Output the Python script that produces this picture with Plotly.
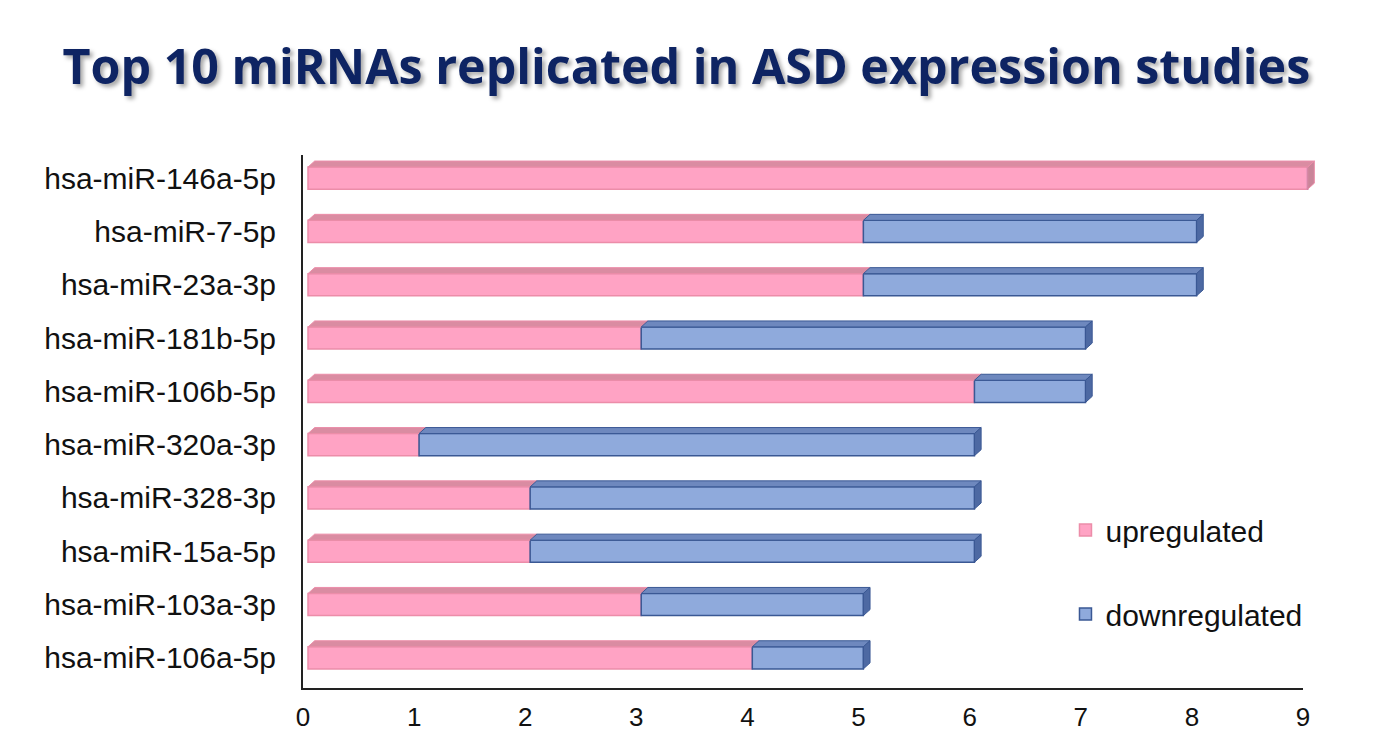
import plotly.graph_objects as go

mirnas = ["hsa-miR-146a-5p", "hsa-miR-7-5p", "hsa-miR-23a-3p", "hsa-miR-181b-5p",
          "hsa-miR-106b-5p", "hsa-miR-320a-3p", "hsa-miR-328-3p", "hsa-miR-15a-5p",
          "hsa-miR-103a-3p", "hsa-miR-106a-5p"]
upregulated = [9, 5, 5, 3, 6, 1, 2, 2, 3, 4]
downregulated = [0, 3, 3, 4, 1, 5, 4, 4, 2, 1]
x_ticks = [0, 1, 2, 3, 4, 5, 6, 7, 8, 9]

n = len(mirnas)
ypos = [n - 1 - i for i in range(n)]
BW = 0.415     # front face thickness (category units)
YOFF = 0.066   # front face centre offset
DX = 0.06      # depth offset in x (value units)
DY = 0.113     # depth offset in y (category units)

PINK = "#FFA3C4"
PINK_LINE = "#EC8DA9"
PINK_TOP = "#DA8CA2"
PINK_END = "#C98599"
BLUE = "#8FAADC"
BLUE_LINE = "#3A5894"
BLUE_TOP = "#6E88BE"
BLUE_END = "#4D69A3"

ycent = [y + YOFF for y in ypos]

fig = go.Figure()
fig.add_trace(go.Bar(
    y=ycent, x=upregulated, base=[0] * n, orientation="h", width=BW,
    name="upregulated", legendgroup="up", xaxis="x", yaxis="y",
    marker=dict(color=PINK, line=dict(color=PINK_LINE, width=1.5)),
))
fig.add_trace(go.Bar(
    y=ycent, x=downregulated, base=upregulated, orientation="h", width=BW,
    name="downregulated", legendgroup="down", xaxis="x", yaxis="y",
    marker=dict(color=BLUE, line=dict(color=BLUE_LINE, width=1.5)),
))
# invisible helper so the value axis (x2) is drawn
fig.add_trace(go.Scatter(
    x=[0], y=[0], xaxis="x2", yaxis="y", mode="markers",
    marker=dict(opacity=0), showlegend=False, hoverinfo="skip",
))

shapes = []
for yc, u, d in zip(ycent, upregulated, downregulated):
    yt = yc + BW / 2
    yb = yc - BW / 2
    segs = []
    if u > 0:
        segs.append((0, u, PINK_TOP, PINK_LINE, PINK_END))
    if d > 0:
        segs.append((u, u + d, BLUE_TOP, BLUE_LINE, BLUE_END))
    for k, (a, b, top, line, end) in enumerate(segs):
        shapes.append(dict(
            type="path", xref="x", yref="y", layer="above",
            path=f"M {a},{yt} L {a+DX},{yt+DY} L {b+DX},{yt+DY} L {b},{yt} Z",
            fillcolor=top, line=dict(color=line, width=1),
        ))
        if k == len(segs) - 1:
            shapes.append(dict(
                type="path", xref="x", yref="y", layer="above",
                path=f"M {b},{yt} L {b+DX},{yt+DY} L {b+DX},{yb+DY} L {b},{yb} Z",
                fillcolor=end, line=dict(color=line, width=1),
            ))

fig.update_layout(
    width=1381, height=741,
    paper_bgcolor="white", plot_bgcolor="rgba(0,0,0,0)",
    margin=dict(l=303, r=60, t=155, b=53, autoexpand=False),
    barmode="overlay",
    shapes=shapes,
    title=dict(
        text="Top 10 miRNAs replicated in ASD expression studies",
        x=0.497, xanchor="center", y=1 - 67 / 741, yanchor="middle", yref="container",
        font=dict(family="Open Sans", size=48.4, color="#0E2463", weight="bold",
                  shadow="3px 3px 4px rgba(0,0,0,0.35)"),
    ),
    legend=dict(
        x=0.749, y=0.345, xanchor="left", yanchor="top",
        font=dict(family="Liberation Sans, Arial", size=30, color="#111111"),
        tracegroupgap=42, bgcolor="rgba(0,0,0,0)", traceorder="grouped",
        itemwidth=30,
    ),
    showlegend=True,
    xaxis=dict(
        range=[-0.045, 9.12], domain=[0, 1], anchor="y", automargin=False,
        showgrid=False, zeroline=False, showline=False, showticklabels=False, ticks="",
    ),
    xaxis2=dict(
        range=[0, 9], domain=[0, 1000 / 1018], anchor="y", automargin=False,
        tickvals=x_ticks, ticktext=[str(t) for t in x_ticks],
        showgrid=False, zeroline=False, showline=True, linecolor="#222222", linewidth=2,
        ticks="", ticklabelstandoff=5,
        tickfont=dict(family="Liberation Sans, Arial", size=26, color="#111111"),
    ),
    yaxis=dict(
        range=[-0.5, n - 0.5], tickvals=ycent, ticktext=mirnas, anchor="x",
        automargin=False,
        showgrid=False, zeroline=False, showline=True, linecolor="#222222", linewidth=2,
        ticks="", ticklabelstandoff=19,
        tickfont=dict(family="Liberation Sans, Arial", size=30, color="#111111"),
    ),
)

fig.write_html("out.html")
